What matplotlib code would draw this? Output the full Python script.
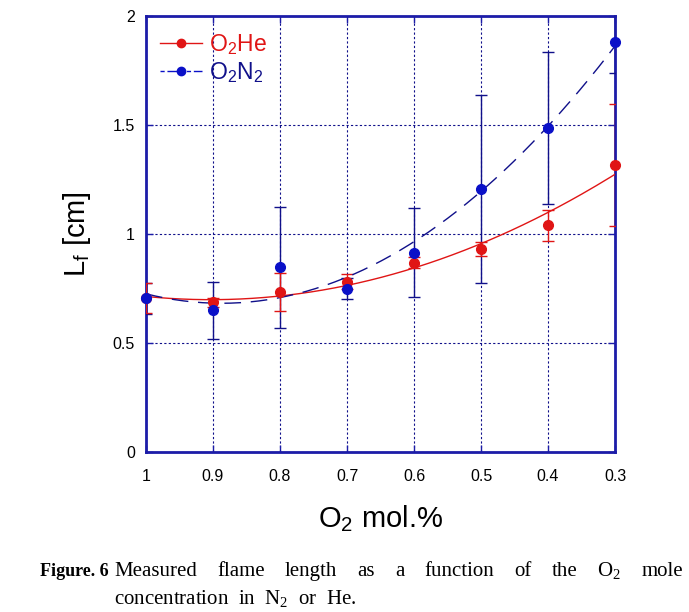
import numpy as np
import matplotlib
matplotlib.use("Agg")
import matplotlib.pyplot as plt

x_o2 = [1.0, 0.9, 0.8, 0.7, 0.6, 0.5, 0.4, 0.3]
lf_he = [0.706, 0.687, 0.735, 0.781, 0.868, 0.931, 1.040, 1.318]
err_he = [0.07, 0.02, 0.088, 0.035, 0.025, 0.032, 0.07, 0.28]
lf_n2 = [0.705, 0.650, 0.847, 0.750, 0.914, 1.206, 1.486, 1.879]
err_n2 = [0.07, 0.13, 0.277, 0.05, 0.205, 0.43, 0.35, 0.14]
xticks = [1, 0.9, 0.8, 0.7, 0.6, 0.5, 0.4, 0.3]
xticklabels = ["1", "0.9", "0.8", "0.7", "0.6", "0.5", "0.4", "0.3"]
yticks = [0, 0.5, 1, 1.5, 2]
yticklabels = ["0", "0.5", "1", "1.5", "2"]
caption_line1 = ["Measured", "flame", "length", "as", "a", "function", "of", "the",
                 "O$_\\mathregular{2}$", "mole"]
caption_line2 = "concentration  in  N$_\\mathregular{2}$  or  He."

RED = "#e01515"
BLUE = "#0a10c8"
DARKBLUE = "#10108a"
SPINE = "#1c1ca8"

fig = plt.figure(figsize=(6.89, 6.12), dpi=100)
ax = fig.add_axes([0.2119, 0.2614, 0.6807, 0.7124])

xs = np.linspace(1.0, 0.3, 200)
p_he = np.polyfit(x_o2, lf_he, 2)
p_n2 = np.polyfit(x_o2, lf_n2, 2)

ax.errorbar(x_o2, lf_n2, yerr=err_n2, fmt="none", ecolor=DARKBLUE, elinewidth=1.0,
            capsize=4, capthick=1.0, zorder=3)
ax.errorbar(x_o2, lf_he, yerr=err_he, fmt="none", ecolor=RED, elinewidth=1.0,
            capsize=4, capthick=1.0, zorder=3)
ax.plot(xs, np.polyval(p_he, xs), color=RED, lw=1.0, zorder=4)
ax.plot(xs, np.polyval(p_n2, xs), color=DARKBLUE, lw=1.0, dashes=(12, 7), zorder=4)
ax.plot(x_o2, lf_he, "o", color=RED, ms=7, zorder=5, clip_on=False)
ax.plot(x_o2, lf_n2, "o", color=BLUE, ms=7, zorder=5, clip_on=False)

# legend handles
ax.plot([], [], "-o", color=RED, lw=1.0, ms=6, label="O$_\\mathregular{2}$He")
ax.plot([], [], "o", color=BLUE, ls=(0, (3, 2, 12, 2)), lw=1.0, ms=6,
        label="O$_\\mathregular{2}$N$_\\mathregular{2}$")
h, l = ax.get_legend_handles_labels()
leg = ax.legend(h, l, loc="upper left", frameon=False,
                prop={"family": "Liberation Sans", "size": 16.5},
                handlelength=1.85, handletextpad=0.3, labelspacing=0.15,
                bbox_to_anchor=(-0.005, 1.0), borderaxespad=0.3)
leg.get_texts()[0].set_color(RED)
leg.get_texts()[1].set_color(DARKBLUE)

ax.set_xlim(1.0, 0.3)
ax.set_ylim(0, 2)
ax.set_xticks(xticks)
ax.set_xticklabels(xticklabels)
ax.set_yticks(yticks)
ax.set_yticklabels(yticklabels)
ax.tick_params(direction="in", length=5, width=1, color=SPINE, top=True, right=True,
               labelsize=11.5, labelcolor="black")
ax.tick_params(axis="x", pad=12)
ax.tick_params(axis="y", pad=8)
ax.grid(True, color=DARKBLUE, linestyle=(0, (2, 2)), lw=0.8)
for s in ax.spines.values():
    s.set_color(SPINE)
    s.set_linewidth(2.0)

for t in ax.get_xticklabels() + ax.get_yticklabels():
    t.set_fontfamily("Liberation Sans")

ax.set_ylabel("L$_\\mathregular{f}$ [cm]", fontsize=21, family="Liberation Sans", labelpad=14)
ax.set_xlabel("O$_\\mathregular{2}$ mol.%", fontsize=21, family="Liberation Sans", labelpad=14)

# caption
cap_fs = 15
y1 = 1 - 576 / 612
y2 = 1 - 604 / 612
fig.text(40 / 689, y1, "Figure. 6", fontsize=13, family="Liberation Serif",
         weight="bold", va="baseline")
word_texts = [fig.text(0, y1, w, fontsize=cap_fs, family="Liberation Serif",
                       va="baseline") for w in caption_line1]
fig.canvas.draw()
renderer = fig.canvas.get_renderer()
widths = [t.get_window_extent(renderer).width for t in word_texts]
x_start, x_end = 114.0, 683.0
gap = (x_end - x_start - sum(widths)) / (len(widths) - 1)
xpos = x_start
for t, w in zip(word_texts, widths):
    t.set_x(xpos / 689)
    xpos += w + gap
fig.text(x_start / 689, y2, caption_line2, fontsize=cap_fs,
         family="Liberation Serif", va="baseline")

fig.savefig("out.png", dpi=100)
